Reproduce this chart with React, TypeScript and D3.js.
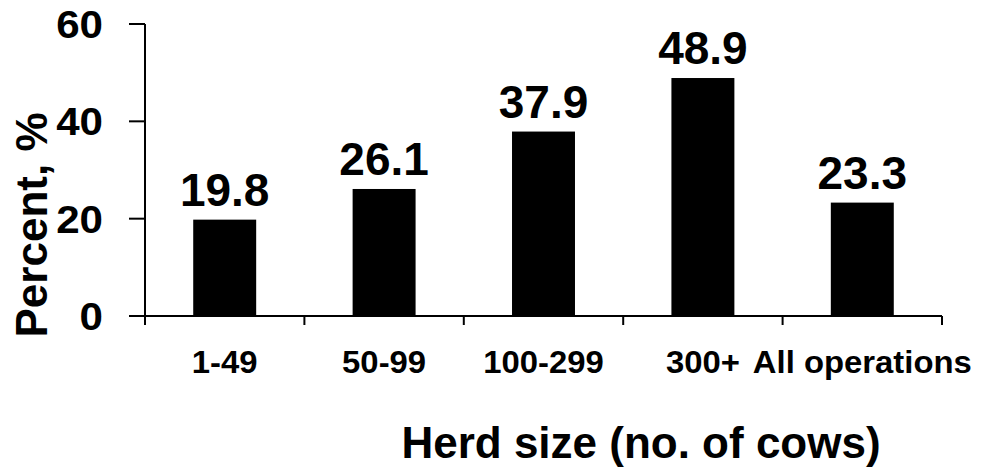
import React from "react";
import * as d3 from "d3";

const categories = ["1-49", "50-99", "100-299", "300+", "All operations"];
const values = [19.8, 26.1, 37.9, 48.9, 23.3];
const yTicks = [0, 20, 40, 60];
const xTitle = "Herd size (no. of cows)";
const yTitle = "Percent, %";

const W = 981;
const H = 471;
const FONT = "'Liberation Sans', Arial, Helvetica, sans-serif";

export default function App() {
  const x = d3.scaleBand<string>().domain(categories).range([145, 942]).paddingInner(0.605).paddingOuter(0.3025);
  const step = (942 - 145) / categories.length;
  const y = d3.scaleLinear().domain([0, 60]).range([316, 24]);
  const boundaries = d3.range(categories.length + 1).map((i) => 145 + i * step);

  return (
    <svg width={W} height={H} style={{ position: "absolute", left: 0, top: 0, background: "#fff" }} fontFamily={FONT}>
      {values.map((v, i) => (
        <rect key={i} x={x(categories[i])!} y={y(v)} width={x.bandwidth()} height={y(0) - y(v)} fill="#000" />
      ))}
      {values.map((v, i) => (
        <text key={"v" + i} x={x(categories[i])! + x.bandwidth() / 2} y={y(v) - 14} textAnchor="middle" fontSize={46} fontWeight="bold" fill="#000">
          {v.toFixed(1)}
        </text>
      ))}
      {/* y axis */}
      <line x1={145} x2={145} y1={y(60)} y2={y(0)} stroke="#000" strokeWidth={2} />
      {yTicks.map((t) => (
        <g key={"t" + t}>
          <line x1={129} x2={145} y1={y(t)} y2={y(t)} stroke="#000" strokeWidth={2} />
          <text transform={`translate(103,${y(t)}) scale(1.08,1)`} dy="0.36em" textAnchor="end" fontSize={39} fontWeight="bold" fill="#000">
            {t}
          </text>
        </g>
      ))}
      {/* x axis */}
      <line x1={145} x2={942} y1={y(0)} y2={y(0)} stroke="#000" strokeWidth={2} />
      {boundaries.map((b, i) => (
        <line key={"b" + i} x1={b} x2={b} y1={y(0)} y2={y(0) + 9} stroke="#000" strokeWidth={2} />
      ))}
      {categories.map((c) => (
        <text key={c} transform={`translate(${x(c)! + x.bandwidth() / 2},373) scale(1.06,1)`} textAnchor="middle" fontSize={31} fontWeight="bold" fill="#000">
          {c}
        </text>
      ))}
      <text x={641} y={458} textAnchor="middle" fontSize={44} fontWeight="bold" fill="#000">
        {xTitle}
      </text>
      <text transform="translate(47,225) rotate(-90)" textAnchor="middle" fontSize={44} fontWeight="bold" fill="#000">
        {yTitle}
      </text>
    </svg>
  );
}
